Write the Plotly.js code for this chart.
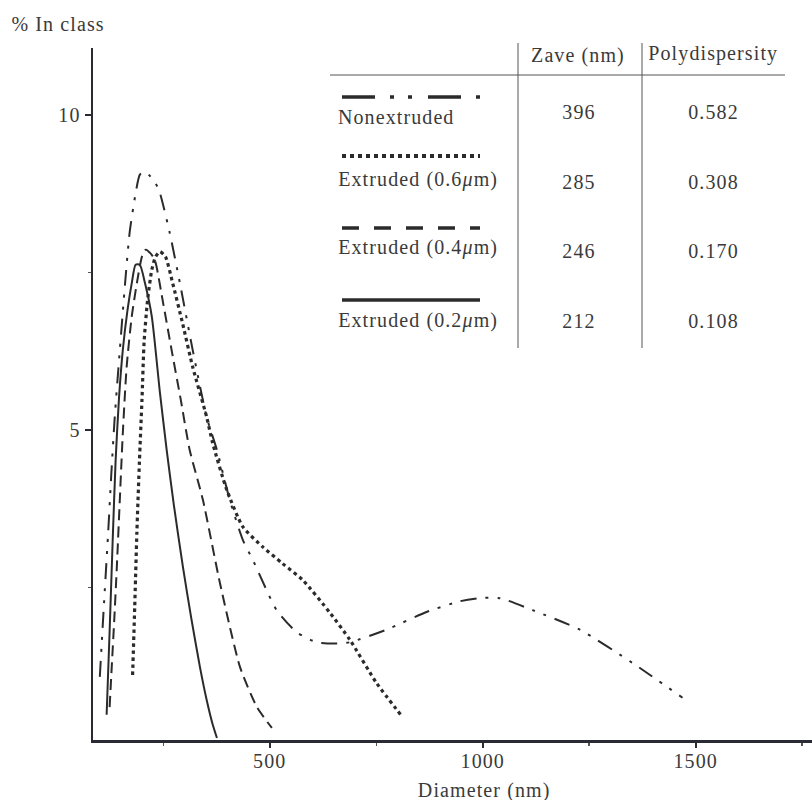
<!DOCTYPE html>
<html>
<head>
<meta charset="utf-8">
<script src="https://cdn.plot.ly/plotly-3.0.1.min.js"></script>
<style>
html,body{margin:0;padding:0;background:#fff;}
#chart{width:812px;height:800px;}
#chart svg text{letter-spacing:1.1px;}
</style>
</head>
<body>
<div id="chart"></div>
<script>
// ---- Data ----
const nonX = [101, 110, 120, 128, 136, 148, 160, 171, 185, 195, 207, 220, 230, 242, 265, 289, 319, 352, 376, 406, 437, 460, 493, 516, 563, 610, 657, 688, 774, 868, 946, 993, 1040, 1117, 1228, 1352, 1469];
const nonY = [1.08, 2.15, 3.3, 4.3, 5.2, 6.27, 7.3, 8.13, 8.75, 9.05, 9.1, 9.02, 8.94, 8.76, 8.13, 7.33, 6.27, 5.2, 4.68, 3.89, 3.25, 2.94, 2.45, 2.14, 1.79, 1.63, 1.61, 1.63, 1.83, 2.11, 2.28, 2.33, 2.33, 2.14, 1.83, 1.3, 0.75];

const ex06X = [178, 183, 188, 194, 200, 205, 213, 223, 232, 242, 255, 272, 295, 319, 352, 366, 399, 437, 484, 530, 577, 641, 688, 751, 812];
const ex06Y = [1.11, 2.2, 3.37, 4.5, 5.48, 6.4, 7.05, 7.54, 7.75, 7.83, 7.75, 7.33, 6.7, 6.0, 5.2, 4.79, 4.05, 3.46, 3.14, 2.88, 2.62, 2.1, 1.67, 0.98, 0.44];

const ex04X = [124, 129, 135, 141, 148, 155, 164, 176, 188, 200, 209, 220, 230, 250, 270, 291, 312, 343, 383, 430, 470, 505];
const ex04Y = [0.6, 1.24, 2.0, 2.83, 3.9, 4.95, 6.0, 6.8, 7.33, 7.75, 7.86, 7.8, 7.7, 7.0, 6.25, 5.48, 4.68, 3.89, 2.57, 1.24, 0.6, 0.27];

const ex02X = [117, 124, 131, 138, 146, 155, 166, 176, 185, 195, 207, 223, 242, 258, 275, 296, 316, 336, 352, 365, 376];
const ex02Y = [0.48, 1.8, 3.2, 4.5, 5.5, 6.27, 6.9, 7.33, 7.62, 7.62, 7.33, 6.8, 5.6, 4.68, 3.8, 2.83, 2.0, 1.24, 0.71, 0.35, 0.11];

const seriesNames = ['Nonextruded', 'Extruded (0.6<i>μ</i>m)', 'Extruded (0.4<i>μ</i>m)', 'Extruded (0.2<i>μ</i>m)'];
const zaveValues = ['396', '285', '246', '212'];
const polyValues = ['0.582', '0.308', '0.170', '0.108'];
const xTickVals = [500, 1000, 1500];
const yTickVals = [5, 10];

// ---- Layout helpers (pixel -> paper) ----
const L = 93, T = 48, W = 719, H = 692;
const px = p => (p - L) / W;
const py = p => (T + H - p) / H;
const plainLen = s => s.replace(/<[^>]+>/g, '').length;

const ink = '#2b2b2b';
const txt = '#3a3a3a';
const FONT = 'Liberation Serif, Times New Roman, serif';
const FS = 20;
const LS = 1.1; // letter spacing (css)

const dashNon = '16px,9px,3px,9px,3px,9px';
const dash06 = '3.5px,3.5px';
const dash04 = '11px,6px';

const traces = [
  {x: nonX, y: nonY, mode: 'lines', line: {color: ink, width: 2, dash: dashNon, shape: 'spline', smoothing: 0.6}},
  {x: ex06X, y: ex06Y, mode: 'lines', line: {color: ink, width: 3.2, dash: dash06, shape: 'spline', smoothing: 0.6}},
  {x: ex04X, y: ex04Y, mode: 'lines', line: {color: ink, width: 2, dash: dash04, shape: 'spline', smoothing: 0.6}},
  {x: ex02X, y: ex02Y, mode: 'lines', line: {color: ink, width: 2, dash: 'solid', shape: 'spline', smoothing: 0.6}}
];

// table geometry (pixels)
const colZave = 579, colPoly = 713;
const rowText = [117, 180, 248, 320];
const rowVal = [112, 182, 251, 321];
const rowSample = [97, 156, 228, 300];
const sampleDash = ['33px,15px,4px,14px,4px,16px', '4px,4px', '17px,15px', 'solid'];

const shapes = [
  {type: 'line', xref: 'paper', yref: 'paper', x0: px(330), x1: px(785), y0: py(75), y1: py(75), line: {color: '#555', width: 1}},
  {type: 'line', xref: 'paper', yref: 'paper', x0: px(518), x1: px(518), y0: py(43), y1: py(348), line: {color: '#555', width: 1}},
  {type: 'line', xref: 'paper', yref: 'paper', x0: px(642), x1: px(642), y0: py(43), y1: py(348), line: {color: '#555', width: 1}}
];
rowSample.forEach((r, i) => {
  shapes.push({type: 'line', xref: 'paper', yref: 'paper', x0: px(342), x1: px(480), y0: py(r), y1: py(r),
    line: {color: ink, width: i === 1 ? 4 : 3.5, dash: sampleDash[i]}});
});

const annotations = [
  {text: '% In class', xref: 'paper', yref: 'paper', x: px(15), y: py(24), xanchor: 'left', yanchor: 'middle', showarrow: false, font: {family: FONT, size: FS, color: txt}},
  {text: 'Diameter (nm)', xref: 'paper', yref: 'paper', x: px(484), y: py(790), xanchor: 'center', yanchor: 'middle', showarrow: false, font: {family: FONT, size: FS, color: txt}},
  {text: 'Zave (nm)', xref: 'paper', yref: 'paper', x: px(578), y: py(55), xanchor: 'center', yanchor: 'middle', showarrow: false, font: {family: FONT, size: FS, color: txt}},
  {text: 'Polydispersity', xref: 'paper', yref: 'paper', x: px(713), y: py(54), xanchor: 'center', yanchor: 'middle', showarrow: false, font: {family: FONT, size: FS, color: txt}}
];
seriesNames.forEach((n, i) => {
  const shift = 0.5 * LS * plainLen(n);
  annotations.push({text: n, xref: 'paper', yref: 'paper', x: px(336 + shift), y: py(rowText[i]), xanchor: 'left', yanchor: 'middle', showarrow: false, font: {family: FONT, size: FS, color: txt}});
  annotations.push({text: zaveValues[i], xref: 'paper', yref: 'paper', x: px(colZave), y: py(rowVal[i]), xanchor: 'center', yanchor: 'middle', showarrow: false, font: {family: FONT, size: FS, color: txt}});
  annotations.push({text: polyValues[i], xref: 'paper', yref: 'paper', x: px(colPoly), y: py(rowVal[i]), xanchor: 'center', yanchor: 'middle', showarrow: false, font: {family: FONT, size: FS, color: txt}});
});

const layout = {
  width: 812, height: 800,
  margin: {l: L, r: 0, t: T, b: 800 - T - H, pad: 0},
  paper_bgcolor: '#fff', plot_bgcolor: '#fff',
  showlegend: false,
  font: {family: FONT, size: FS, color: txt},
  xaxis: {
    range: [85, 1773], showgrid: false, zeroline: false,
    showline: true, linecolor: '#2a2a35', linewidth: 2.5,
    ticks: 'outside', ticklen: 5, tickwidth: 2, tickcolor: '#2a2a35',
    ticklabelstandoff: -4,
    tickmode: 'array', tickvals: xTickVals, ticktext: xTickVals.map(String),
    tickfont: {family: FONT, size: FS, color: txt},
    minor: {tickvals: [250, 750, 1250, 1750], ticks: 'outside', ticklen: 3, tickwidth: 1.5, tickcolor: '#555', showgrid: false}
  },
  yaxis: {
    range: [0.079, 11.06], showgrid: false, zeroline: false,
    showline: true, linecolor: '#2a2a35', linewidth: 2.5,
    ticks: 'outside', ticklen: 6, tickwidth: 2, tickcolor: '#2a2a35',
    tickmode: 'array', tickvals: yTickVals, ticktext: yTickVals.map(String),
    tickfont: {family: FONT, size: FS, color: txt},
    minor: {tickvals: [2.5, 7.5], ticks: 'outside', ticklen: 3, tickwidth: 1.5, tickcolor: '#555', showgrid: false}
  },
  shapes: shapes,
  annotations: annotations
};

Plotly.newPlot('chart', traces, layout, {staticPlot: true, displayModeBar: false});
</script>
</body>
</html>
